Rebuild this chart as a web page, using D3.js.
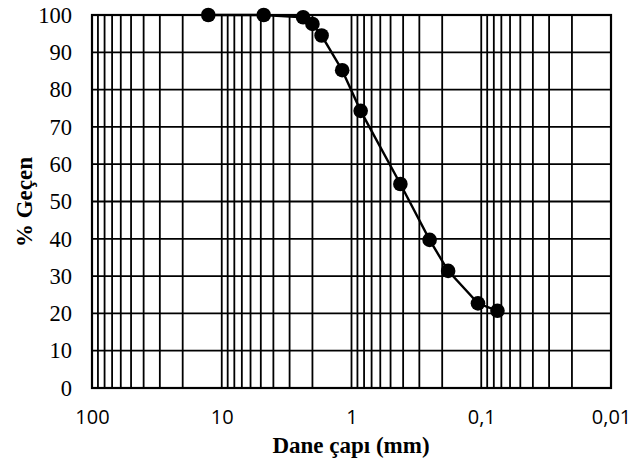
<!DOCTYPE html>
<html>
<head>
<meta charset="utf-8">
<script src="https://cdn.jsdelivr.net/npm/d3@7"></script>
<style>
  html, body { margin: 0; padding: 0; background: #fff; }
  svg { display: block; }
</style>
</head>
<body>
<svg id="chart" width="644" height="463"></svg>
<script>
// Grain size distribution (sieve analysis)
const grainSize = [12.7, 4.75, 2.36, 2.0, 1.7, 1.18, 0.85, 0.42, 0.25, 0.18, 0.106, 0.075];
const percentPassing = [100, 100, 99.4, 97.6, 94.5, 85.2, 74.3, 54.7, 39.7, 31.4, 22.7, 20.7];
const xTickValues = [100, 10, 1, 0.1, 0.01];
const xTickLabels = ["100", "10", "1", "0,1", "0,01"];
const yTickValues = [0, 10, 20, 30, 40, 50, 60, 70, 80, 90, 100];

(function () {
  const svg = d3.select("#chart");
  const plotL = 92, plotR = 611, plotT = 15, plotB = 388;

  const x = d3.scaleLog().domain([100, 0.01]).range([plotL, plotR]);
  const y = d3.scaleLinear().domain([0, 100]).range([plotB, plotT]);

  // minor + major vertical grid: 1..9 in each decade
  const vGrid = [];
  [0.01, 0.1, 1, 10].forEach(dec => {
    for (let k = 1; k <= 9; k++) vGrid.push(dec * k);
  });
  vGrid.push(100);

  const grid = svg.append("g").attr("stroke", "#000").attr("stroke-width", 1.8);
  grid.selectAll("line.v").data(vGrid).join("line")
    .attr("class", "v")
    .attr("x1", d => x(d)).attr("x2", d => x(d))
    .attr("y1", plotT).attr("y2", plotB);
  grid.selectAll("line.h").data(yTickValues).join("line")
    .attr("class", "h")
    .attr("x1", plotL).attr("x2", plotR)
    .attr("y1", d => y(d)).attr("y2", d => y(d));

  svg.append("rect")
    .attr("x", plotL).attr("y", plotT)
    .attr("width", plotR - plotL).attr("height", plotB - plotT)
    .attr("fill", "none").attr("stroke", "#000").attr("stroke-width", 2.2);

  // y axis labels
  const yAxis = svg.append("g")
    .attr("transform", `translate(${plotL},0)`)
    .call(d3.axisLeft(y).tickValues(yTickValues).tickSize(0).tickPadding(20).tickFormat(d3.format("d")));
  yAxis.select(".domain").remove();
  yAxis.selectAll("text")
    .attr("font-family", "'Liberation Serif', 'Times New Roman', serif")
    .attr("font-size", 22.5).attr("fill", "#000");

  // x axis labels
  const xAxis = svg.append("g")
    .attr("transform", `translate(0,${plotB})`)
    .call(d3.axisBottom(x).tickValues(xTickValues).tickSize(0).tickPadding(22)
      .tickFormat((d, i) => xTickLabels[i]));
  xAxis.select(".domain").remove();
  xAxis.selectAll("text")
    .attr("font-family", "'Open Sans', 'Liberation Sans', sans-serif")
    .attr("font-size", 20).attr("fill", "#000");

  // axis titles
  svg.append("text")
    .attr("x", 351).attr("y", 453)
    .attr("text-anchor", "middle")
    .attr("font-family", "'Liberation Serif', 'Times New Roman', serif")
    .attr("font-weight", "bold").attr("font-size", 23)
    .text("Dane çapı (mm)");

  svg.append("text")
    .attr("transform", `translate(32,202) rotate(-90)`)
    .attr("text-anchor", "middle")
    .attr("font-family", "'Liberation Serif', 'Times New Roman', serif")
    .attr("font-weight", "bold").attr("font-size", 23)
    .text("% Geçen");

  // curve and points
  const data = grainSize.map((d, i) => ({ d, p: percentPassing[i] }));
  svg.append("path")
    .datum(data)
    .attr("fill", "none").attr("stroke", "#000").attr("stroke-width", 2.4)
    .attr("d", d3.line().x(v => x(v.d)).y(v => y(v.p)));

  svg.selectAll("circle.pt").data(data).join("circle")
    .attr("class", "pt")
    .attr("cx", v => x(v.d)).attr("cy", v => y(v.p))
    .attr("r", 7.3).attr("fill", "#000");
})();
</script>
</body>
</html>
